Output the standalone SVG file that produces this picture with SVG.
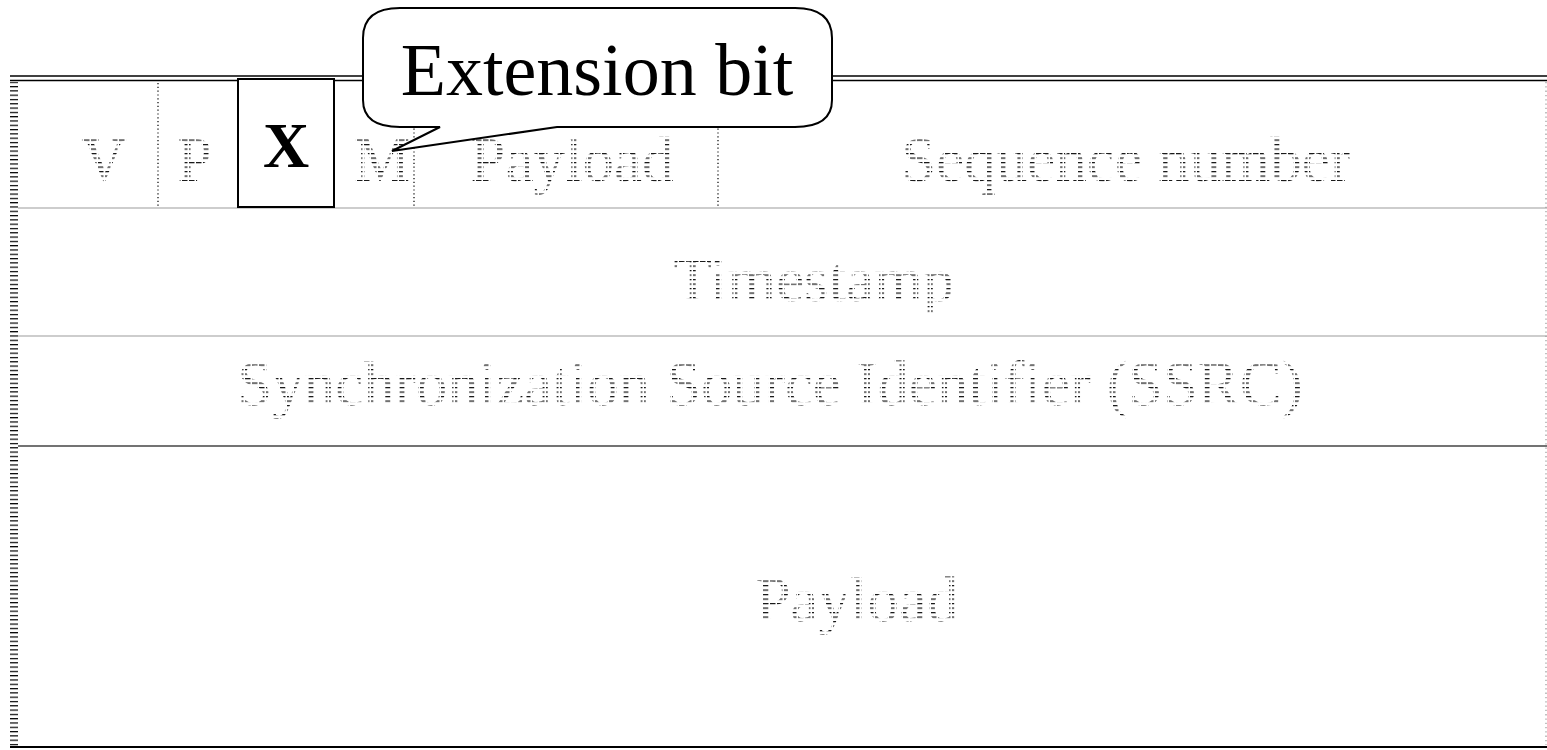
<svg xmlns="http://www.w3.org/2000/svg" width="1547" height="750" viewBox="0 0 1547 750">
  <defs>
    <pattern id="hatch" patternUnits="userSpaceOnUse" width="7" height="4.5">
      <rect x="0" y="0" width="5.5" height="1.2" fill="#111"/>
    </pattern>
    <pattern id="edge" patternUnits="userSpaceOnUse" width="10" height="4.3">
      <rect x="0" y="0" width="10" height="1.2" fill="#000"/>
    </pattern>
  </defs>
  <style>
    .faded { font-family: "Liberation Serif", "Times New Roman", serif; font-size: 63px; fill: url(#hatch); text-anchor: middle; }
    .bold { font-family: "Liberation Serif", "Times New Roman", serif; font-size: 64px; font-weight: bold; fill: #000; text-anchor: middle; }
    .callout-text { font-family: "Liberation Serif", "Times New Roman", serif; font-size: 74px; fill: #000; text-anchor: middle; }
    .sep { stroke: #000; stroke-width: 1.2; stroke-dasharray: 1.2 2.6; }
    .rowline { stroke: #bdbdbd; stroke-width: 1.5; }
  </style>
  <rect width="1547" height="750" fill="#fff"/>

  <g id="grid">
    <rect x="10" y="82" width="8" height="664" fill="url(#edge)"/>
    <line x1="10" y1="76" x2="1547" y2="76" stroke="#000" stroke-width="1.4"/>
    <line x1="10" y1="80.5" x2="1547" y2="80.5" stroke="#000" stroke-width="1.4"/>
    <line class="rowline" x1="18" y1="208" x2="1547" y2="208"/>
    <line class="rowline" x1="18" y1="336" x2="1547" y2="336"/>
    <line x1="18" y1="446" x2="1547" y2="446" stroke="#444" stroke-width="1.5"/>
    <line x1="10" y1="747" x2="1547" y2="747" stroke="#000" stroke-width="2"/>
    <line x1="1546" y1="82" x2="1546" y2="745" stroke="#999" stroke-width="1.2" stroke-dasharray="1.3 3"/>
    <line class="sep" x1="158" y1="83" x2="158" y2="206"/>
    <line class="sep" x1="414" y1="83" x2="414" y2="206"/>
    <line class="sep" x1="718" y1="83" x2="718" y2="206"/>
  </g>

  <g id="connectors"></g>

  <g id="field-v"><text class="faded" x="104" y="181">V</text></g>
  <g id="field-p"><text class="faded" x="195" y="181">P</text></g>
  <g id="field-x">
    <rect x="238" y="79" width="96" height="128" fill="#fff" stroke="#000" stroke-width="2"/>
    <text class="bold" x="286" y="167">X</text>
  </g>
  <g id="field-m"><text class="faded" x="382" y="181">M</text></g>
  <g id="field-payload-type"><text class="faded" x="572" y="181">Payload</text></g>
  <g id="field-sequence"><text class="faded" x="1126" y="181">Sequence number</text></g>
  <g id="field-timestamp"><text class="faded" x="814" y="301">Timestamp</text></g>
  <g id="field-ssrc"><text class="faded" x="770" y="405">Synchronization Source Identifier (SSRC)</text></g>
  <g id="field-payload"><text class="faded" x="857" y="621">Payload</text></g>

  <g id="callout">
    <path d="M400,8 L795,8 Q832,8 832,38 L832,100 Q832,127 795,127 L557,127 L392,151 L440,127 L400,127 Q363,127 363,100 L363,38 Q363,8 400,8 Z" fill="#fff" stroke="#000" stroke-width="2" stroke-linejoin="miter"/>
    <text class="callout-text" x="597" y="95">Extension bit</text>
  </g>
</svg>
